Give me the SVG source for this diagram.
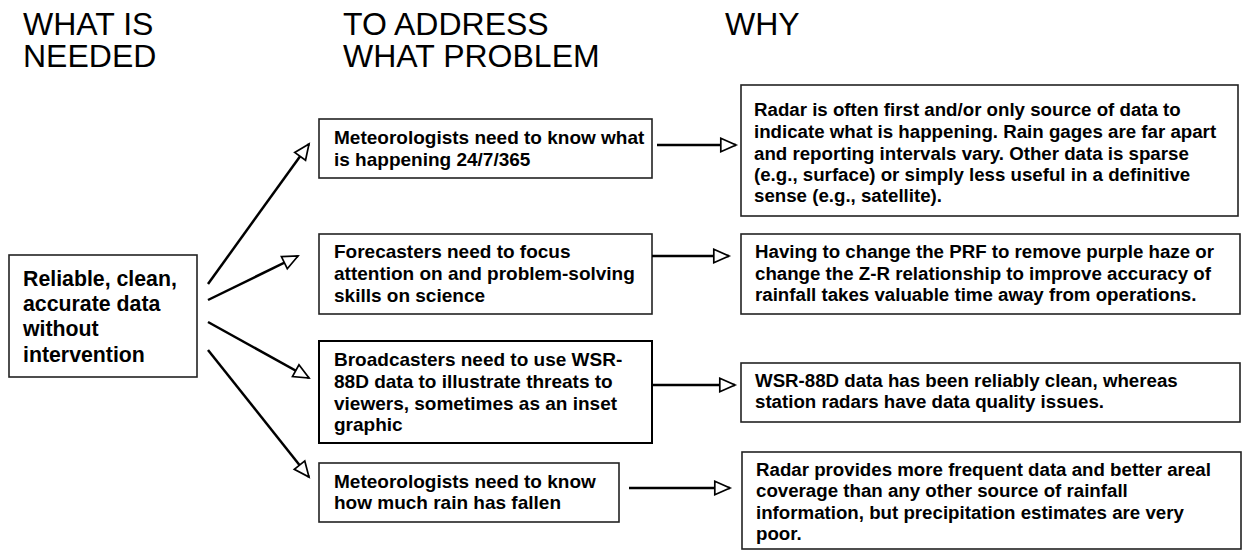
<svg xmlns="http://www.w3.org/2000/svg" width="1244" height="552" viewBox="0 0 1244 552">
<defs>
<style>
.hdr{font-family:"Liberation Sans",Arial,sans-serif;font-size:32px;fill:#000}
.box{fill:#fff;stroke:#222;stroke-width:1.6}
.t{font-family:"Liberation Sans",Arial,sans-serif;font-weight:bold;fill:#000}
.l{font-size:21.3px}
.m{font-size:19px}
.r{font-size:18.7px}
.c{stroke:#000;stroke-width:2.5;fill:none;marker-end:url(#ah)}
</style>
<marker id="ah" markerUnits="userSpaceOnUse" markerWidth="20" markerHeight="18" refX="16" refY="7.5" orient="auto" overflow="visible">
<path d="M0.8,0.8 L16,7.5 L0.8,14.2 Z" fill="#fff" stroke="#000" stroke-width="1.7" stroke-linejoin="miter"/>
</marker>
</defs>
<rect width="1244" height="552" fill="#fff"/>

<g id="headers">
<text class="hdr" x="23" y="35">WHAT IS</text>
<text class="hdr" x="23" y="67">NEEDED</text>
<text class="hdr" x="343" y="35">TO ADDRESS</text>
<text class="hdr" x="343" y="67">WHAT PROBLEM</text>
<text class="hdr" x="725" y="35">WHY</text>
</g>

<g id="need">
<rect class="box" x="9" y="255" width="188" height="122"/>
<text class="t l" x="23"><tspan x="23" y="286">Reliable, clean,</tspan><tspan x="23" y="311">accurate data</tspan><tspan x="23" y="336">without</tspan><tspan x="23" y="362">intervention</tspan></text>
</g>

<g id="problem1">
<rect class="box" x="319" y="119" width="333" height="59"/>
<text class="t m"><tspan x="334" y="144">Meteorologists need to know what</tspan><tspan x="334" y="166">is happening 24/7/365</tspan></text>
</g>
<g id="problem2">
<rect class="box" x="319" y="234" width="333" height="80"/>
<text class="t m"><tspan x="334" y="258">Forecasters need to focus</tspan><tspan x="334" y="280">attention on and problem-solving</tspan><tspan x="334" y="302">skills on science</tspan></text>
</g>
<g id="problem3">
<rect class="box" x="319" y="341" width="333" height="102" style="stroke:#000;stroke-width:2"/>
<text class="t m"><tspan x="334" y="366">Broadcasters need to use WSR-</tspan><tspan x="334" y="388">88D data to illustrate threats to</tspan><tspan x="334" y="410">viewers, sometimes as an inset</tspan><tspan x="334" y="431">graphic</tspan></text>
</g>
<g id="problem4">
<rect class="box" x="319" y="463" width="300" height="59"/>
<text class="t m"><tspan x="334" y="488">Meteorologists need to know</tspan><tspan x="334" y="509">how much rain has fallen</tspan></text>
</g>

<g id="why1">
<rect class="box" x="741" y="85" width="497" height="131"/>
<text class="t r"><tspan x="754" y="116">Radar is often first and/or only source of data to</tspan><tspan x="754" y="138">indicate what is happening. Rain gages are far apart</tspan><tspan x="754" y="160">and reporting intervals vary. Other data is sparse</tspan><tspan x="754" y="181">(e.g., surface) or simply less useful in a definitive</tspan><tspan x="754" y="202">sense (e.g., satellite).</tspan></text>
</g>
<g id="why2">
<rect class="box" x="741" y="234" width="499" height="80"/>
<text class="t r"><tspan x="755" y="258">Having to change the PRF to remove purple haze or</tspan><tspan x="755" y="280">change the Z-R relationship to improve accuracy of</tspan><tspan x="755" y="301">rainfall takes valuable time away from operations.</tspan></text>
</g>
<g id="why3">
<rect class="box" x="741" y="363" width="499" height="59"/>
<text class="t r"><tspan x="755" y="387">WSR-88D data has been reliably clean, whereas</tspan><tspan x="755" y="408">station radars have data quality issues.</tspan></text>
</g>
<g id="why4">
<rect class="box" x="742" y="452" width="499" height="97"/>
<text class="t r"><tspan x="756" y="476">Radar provides more frequent data and better areal</tspan><tspan x="756" y="497">coverage than any other source of rainfall</tspan><tspan x="756" y="519">information, but precipitation estimates are very</tspan><tspan x="756" y="540">poor.</tspan></text>
</g>

<g id="connectors">
<line class="c" x1="208" y1="284" x2="309" y2="144"/>
<line class="c" x1="208" y1="300" x2="298" y2="256"/>
<line class="c" x1="208" y1="322" x2="309" y2="378"/>
<line class="c" x1="208" y1="350" x2="309" y2="477"/>
<line class="c" x1="657" y1="145" x2="736" y2="145"/>
<line class="c" x1="652" y1="256" x2="729" y2="256"/>
<line class="c" x1="652" y1="385" x2="735" y2="385"/>
<line class="c" x1="629" y1="488" x2="730" y2="488"/>
</g>
</svg>
